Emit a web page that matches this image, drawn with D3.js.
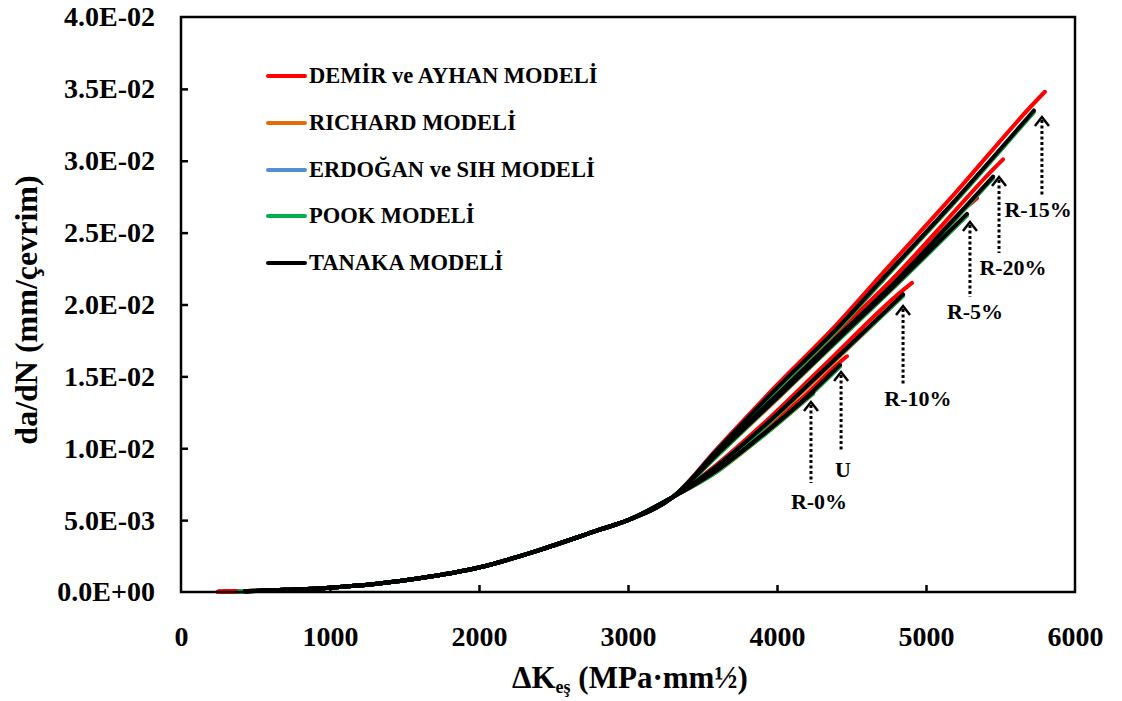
<!DOCTYPE html>
<html>
<head>
<meta charset="utf-8">
<script src="https://cdn.jsdelivr.net/npm/d3@7"></script>
<style>
    body{margin:0;background:#fff;}
    svg text{font-family:"Liberation Serif","Times New Roman",serif;font-weight:bold;fill:#000;}
</style>
</head>
<body>
<div id="chart"></div>
<script>
//数据
var caseNames=["R-0%","U","R-10%","R-5%","R-20%","R-15%"];
var modelNames=["DEMİR ve AYHAN MODELİ","RICHARD MODELİ","ERDOĞAN ve SIH MODELİ","POOK MODELİ","TANAKA MODELİ"];
var modelColors=["#ff0000","#e36c09","#558ed5","#00b050","#000000"];

//共同的低段 (ΔK, da/dN)
var lowDK=[700,1000,1300,1600,2000,2400,2800,3000,3300];
var lowRate=[0.00015,0.0003,0.00055,0.00095,0.0017,0.0029,0.0043,0.0050,0.0066];
//每个模型的起点
var startDK=[250,420,420,390,430];
var startRate=[0.00001,0.00005,0.00005,0.00004,0.00005];

//高段，每个模型按 caseNames 顺序
var demirUp=[
    [[3600,0.0086],[3886,0.0110],[4242,0.0141],[4289,0.0145]],
    [[3600,0.0086],[3886,0.0110],[4150,0.0133],[4423,0.0160],[4470,0.0164]],
    [[3600,0.0089],[3886,0.0115],[4300,0.0156],[4846,0.0210],[4906,0.0215]],
    [[3600,0.0097],[4000,0.0137],[4400,0.0178],[4805,0.0219],[5275,0.0268],[5342,0.0274]],
    [[3600,0.0098],[4000,0.0139],[4400,0.0180],[4805,0.0221],[5150,0.0260],[5450,0.0294],[5517,0.0301]],
    [[3600,0.0100],[4000,0.0144],[4400,0.0186],[4711,0.0222],[5200,0.0278],[5724,0.0340],[5798,0.0348]]
];
var richardUp=[
    [[3600,0.0084],[3886,0.0107],[4242,0.0138]],
    [[3600,0.0084],[3886,0.0107],[4150,0.0130],[4423,0.0157]],
    [[3600,0.0087],[3886,0.0112],[4300,0.0152],[4846,0.0206]],
    [[3600,0.0095],[4000,0.0134],[4400,0.0174],[4805,0.0214],[5275,0.0262]],
    [[3600,0.0096],[4000,0.0136],[4400,0.0176],[4805,0.0216],[5150,0.0254],[5450,0.0288]],
    [[3600,0.0098],[4000,0.0141],[4400,0.0182],[4711,0.0217],[5200,0.0272],[5724,0.0334]]
];
var erdoganUp=[
    [[3600,0.0085],[3886,0.0108],[4242,0.0139]],
    [[3600,0.0085],[3886,0.0108],[4150,0.0131],[4423,0.0157]],
    [[3600,0.0088],[3886,0.0113],[4300,0.0153],[4846,0.0206]],
    [[3600,0.0096],[4000,0.0135],[4400,0.0175],[4805,0.0215],[5275,0.0262]],
    [[3600,0.0097],[4000,0.0137],[4400,0.0177],[4805,0.0217],[5150,0.0255],[5450,0.0288]],
    [[3600,0.0099],[4000,0.0142],[4400,0.0183],[4711,0.0218],[5200,0.0273],[5724,0.0334]]
];
var pookUp=[
    [[3600,0.0084],[3886,0.0108],[4242,0.0138]],
    [[3600,0.0085],[3886,0.0107],[4150,0.0130],[4423,0.0157]],
    [[3600,0.0087],[3886,0.0112],[4300,0.0153],[4846,0.0206]],
    [[3600,0.0095],[4000,0.0135],[4400,0.0174],[4805,0.0214],[5275,0.0262]],
    [[3600,0.0096],[4000,0.0136],[4400,0.0176],[4805,0.0216],[5150,0.0254],[5450,0.0288]],
    [[3600,0.0098],[4000,0.0141],[4400,0.0182],[4711,0.0217],[5200,0.0272],[5724,0.0334]]
];
var tanakaUp=[
    [[3600,0.0085],[3886,0.0108],[4242,0.0139]],
    [[3600,0.0085],[3886,0.0108],[4150,0.0131],[4423,0.0158]],
    [[3600,0.0088],[3886,0.0113],[4300,0.0153],[4846,0.0207]],
    [[3600,0.0096],[4000,0.0135],[4400,0.0175],[4805,0.0215],[5275,0.0263]],
    [[3600,0.0097],[4000,0.0137],[4400,0.0177],[4805,0.0217],[5150,0.0255],[5450,0.0289]],
    [[3600,0.0099],[4000,0.0142],[4400,0.0183],[4711,0.0218],[5200,0.0273],[5724,0.0335]]
];
var modelUps=[demirUp,richardUp,erdoganUp,pookUp,tanakaUp];

//标注箭头 (ΔK, 箭头顶端, 底端, 文字位置)
var annotDK=[4228,4430,4846,5295,5490,5778];
var annotTip=[0.01322,0.0153,0.0199,0.02574,0.02887,0.03304];
var annotBottom=[0.00758,0.00988,0.0144,0.02052,0.02358,0.02762];
var labelDK=[4282,4443,4946,5329,5584,5752];
var labelRate=[0.00577,0.0080,0.01294,0.0190,0.02205,0.02609];

var xTicks=[0,1000,2000,3000,4000,5000,6000];
var yTicks=[0,0.005,0.01,0.015,0.02,0.025,0.03,0.035,0.04];
var yTickLabels=["0.0E+00","5.0E-03","1.0E-02","1.5E-02","2.0E-02","2.5E-02","3.0E-02","3.5E-02","4.0E-02"];

//画布
var width=1122,height=701;
var svg=d3.select("#chart").append("svg")
    .attr("width",width)
    .attr("height",height);

var x=d3.scaleLinear().domain([0,6000]).range([181,1075]);
var y=d3.scaleLinear().domain([0,0.04]).range([592,17]);

//曲线
var line=d3.line()
    .x(function(d){return x(d[0]);})
    .y(function(d){return y(d[1]);})
    .curve(d3.curveMonotoneX);

var plot=svg.append("g");
modelUps.forEach(function(ups,m){
    ups.forEach(function(up){
        var pts=[[startDK[m],startRate[m]]];
        lowDK.forEach(function(k,i){pts.push([k,lowRate[i]]);});
        pts=pts.concat(up);
        plot.append("path")
            .attr("d",line(pts))
            .attr("fill","none")
            .attr("stroke",modelColors[m])
            .attr("stroke-width",4)
            .attr("stroke-linecap","round")
            .attr("stroke-linejoin","round");
    });
});

//坐标轴
var xAxis=d3.axisBottom(x).tickValues(xTicks).tickSize(-7).tickPadding(34)
    .tickFormat(d3.format("d"));
var yAxis=d3.axisLeft(y).tickValues(yTicks).tickSize(-7).tickPadding(26)
    .tickFormat(function(d,i){return yTickLabels[i];});

var gx=svg.append("g").attr("transform","translate(0,592)").call(xAxis);
var gy=svg.append("g").attr("transform","translate(181,0)").call(yAxis);
[gx,gy].forEach(function(g){
    g.select(".domain").remove();
    g.selectAll(".tick line").attr("stroke","#000").attr("stroke-width",2.5);
    g.selectAll(".tick text").style("font-size","28px").attr("fill","#000");
});
gx.selectAll(".tick line").filter(function(d){return d===0||d===6000;}).remove();
gy.selectAll(".tick line").filter(function(d){return d===0||d===0.04;}).remove();

//边框
svg.append("rect")
    .attr("x",181).attr("y",17)
    .attr("width",1075-181).attr("height",592-17)
    .attr("fill","none").attr("stroke","#000").attr("stroke-width",2.5);

//坐标轴标题
var xt=svg.append("text")
    .attr("x",630).attr("y",688)
    .attr("text-anchor","middle")
    .style("font-size","31px");
xt.append("tspan").text("ΔK");
xt.append("tspan").attr("dy",5).style("font-size","18px").text("eş");
xt.append("tspan").attr("dy",-5).text(" (MPa·mm½)");

svg.append("text")
    .attr("transform","translate(37,310) rotate(-90)")
    .attr("text-anchor","middle")
    .style("font-size","32px")
    .text("da/dN (mm/çevrim)");

//图例
var legendY=[76,123,170,216,263];
var legend=svg.append("g");
modelNames.forEach(function(name,i){
    legend.append("line")
        .attr("x1",268).attr("x2",305)
        .attr("y1",legendY[i]).attr("y2",legendY[i])
        .attr("stroke",modelColors[i]).attr("stroke-width",4)
        .attr("stroke-linecap","round");
    legend.append("text")
        .attr("x",309).attr("y",legendY[i]+7)
        .style("font-size","22.5px")
        .text(name);
});

//标注
var ann=svg.append("g");
caseNames.forEach(function(name,i){
    var ax=x(annotDK[i]),tip=y(annotTip[i]);
    ann.append("line")
        .attr("x1",ax).attr("x2",ax)
        .attr("y1",tip+3).attr("y2",y(annotBottom[i]))
        .attr("stroke","#000").attr("stroke-width",3)
        .attr("stroke-dasharray","3,2.5");
    ann.append("path")
        .attr("d","M"+(ax-7)+","+(tip+9)+"L"+ax+","+tip+"L"+(ax+7)+","+(tip+9))
        .attr("fill","none").attr("stroke","#000").attr("stroke-width",2.5);
    ann.append("text")
        .attr("x",x(labelDK[i])).attr("y",y(labelRate[i]))
        .attr("text-anchor","middle")
        .style("font-size","22px")
        .text(name);
});
</script>
</body>
</html>
